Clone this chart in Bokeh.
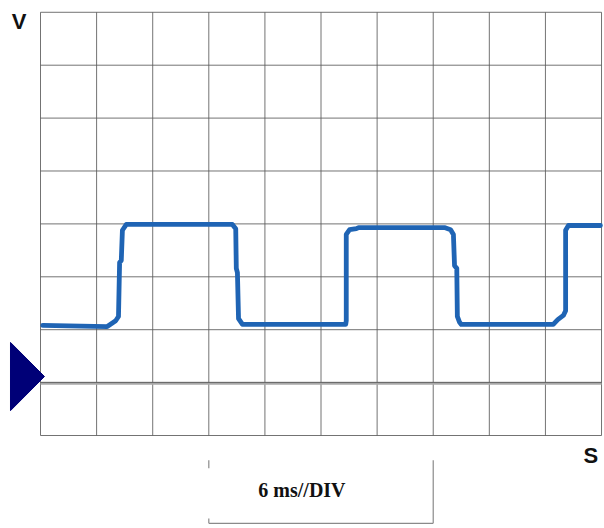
from bokeh.plotting import figure
from bokeh.models import Range1d
from bokeh.core.properties import value
from bokeh.embed import file_html
from bokeh.resources import INLINE

# Screen graticule: 10 horizontal x 8 vertical divisions
x_divs = list(range(0, 11))
y_divs = list(range(0, 9))

# Captured square wave (x in divisions, y in divisions)
wave_x = [0.04, 1.19, 1.34, 1.39, 1.41, 1.44, 1.46, 1.53, 3.42, 3.48, 3.49, 3.51,
          3.53, 3.60, 5.44, 5.45, 5.45, 5.51, 5.63, 5.67, 7.20, 7.31, 7.36, 7.38,
          7.42, 7.43, 7.47, 7.50, 9.14, 9.22, 9.32, 9.36, 9.36, 9.41, 9.98]
wave_y = [2.08, 2.06, 2.17, 2.25, 3.27, 3.31, 3.88, 3.99, 3.99, 3.91, 3.16, 3.08,
          2.21, 2.10, 2.10, 2.17, 3.80, 3.89, 3.91, 3.93, 3.93, 3.89, 3.80, 3.21,
          3.16, 2.25, 2.14, 2.10, 2.10, 2.19, 2.27, 2.36, 3.88, 3.97, 3.97]

ground_level = 1.0
span_start, span_end = 3, 7
y_label = "V"
x_label = "S"
scale_label = "6 ms//DIV"

p = figure(width=604, height=528,
           x_range=Range1d(-0.713, 10.053), y_range=Range1d(-1.758, 8.223),
           min_border=0, toolbar_location=None, output_backend="svg")
p.axis.visible = False
p.grid.visible = False
p.outline_line_color = None
p.background_fill_color = "white"
p.border_fill_color = "white"

grid_color = "#5a5a5a"
# vertical graticule lines
p.segment(x0=x_divs, y0=[y_divs[0]] * len(x_divs), x1=x_divs, y1=[y_divs[-1]] * len(x_divs),
          line_color=grid_color, line_width=1, line_alpha=0.85)
# horizontal graticule lines
p.segment(x0=[x_divs[0]] * len(y_divs), y0=y_divs, x1=[x_divs[-1]] * len(y_divs), y1=y_divs,
          line_color=grid_color, line_width=1, line_alpha=0.85)

# ground reference line (drawn heavier)
p.segment(x0=[x_divs[0]], y0=[ground_level - 0.02], x1=[x_divs[-1]], y1=[ground_level - 0.02],
          line_color="#a8a8a8", line_width=2)
p.segment(x0=[x_divs[0]], y0=[ground_level + 0.005], x1=[x_divs[-1]], y1=[ground_level + 0.005],
          line_color="#666666", line_width=1)

# ground marker
p.patch(x=[-0.535, -0.535, 0.071], y=[ground_level + 0.76, ground_level - 0.53, ground_level + 0.115],
        fill_color="#000077", line_color="#000077", line_width=1)

# trace
p.line(wave_x, wave_y, line_color="#1f64b4", line_width=4.8,
       line_join="round", line_cap="round")

# axis letters
p.text(x=[-0.38], y=[7.82], text=[y_label], text_font=value("Liberation Sans"),
       text_font_style="bold", text_font_size="22px", text_color="#111111",
       text_align="center", text_baseline="middle")
p.text(x=[9.81], y=[-0.38], text=[x_label], text_font=value("Liberation Sans"),
       text_font_style="bold", text_font_size="22px", text_color="#111111",
       text_align="center", text_baseline="middle")

# time-scale bracket
br_color = "#8a8a8a"
p.segment(x0=[span_start, span_start, span_end, span_start],
          y0=[-0.47, -1.57, -0.47, -1.66],
          x1=[span_start, span_start, span_end, span_end],
          y1=[-0.62, -1.66, -1.66, -1.66],
          line_color=br_color, line_width=1.2)
p.text(x=[4.66], y=[-1.03], text=[scale_label],
       text_font=value("Liberation Serif"), text_font_style="bold",
       text_font_size="20px", text_color="#111111",
       text_align="center", text_baseline="middle")

open("out.html", "w").write(file_html(p, INLINE))
